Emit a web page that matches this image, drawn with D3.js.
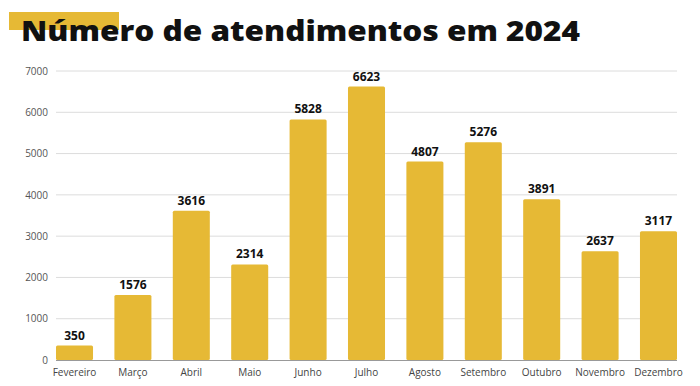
<!DOCTYPE html>
<html>
<head>
<meta charset="utf-8">
<script src="https://cdn.jsdelivr.net/npm/d3@7"></script>
<style>
  body { margin: 0; background: #fff; }
  svg { display: block; }
</style>
</head>
<body>
<div id="chart"></div>
<script>
const months = ['Fevereiro', 'Março', 'Abril', 'Maio', 'Junho', 'Julho', 'Agosto', 'Setembro', 'Outubro', 'Novembro', 'Dezembro'];
const atendimentos = [350, 1576, 3616, 2314, 5828, 6623, 4807, 5276, 3891, 2637, 3117];
const yTicks = [0, 1000, 2000, 3000, 4000, 5000, 6000, 7000];
const title = 'Número de atendimentos em 2024';

const w = 700;
const h = 386;
const barColor = '#E6B935';

const svg = d3.select('#chart')
              .append('svg')
              .attr('width', w)
              .attr('height', h);

// title with the yellow marker behind it
svg.append('rect')
   .attr('x', 9)
   .attr('y', 12)
   .attr('width', 110)
   .attr('height', 18)
   .attr('fill', barColor);

svg.append('text')
   .attr('x', 21)
   .attr('y', 41)
   .attr('font-family', '"Open Sans", sans-serif')
   .attr('font-weight', 800)
   .attr('font-size', 29)
   .attr('fill', '#111')
   .attr('textLength', 559)
   .attr('lengthAdjust', 'spacingAndGlyphs')
   .text(title);

const xScale = d3.scaleBand()
                 .domain(months)
                 .range([56, 677])
                 .paddingInner(0.366)
                 .paddingOuter(0);

const yScale = d3.scaleLinear()
                 .domain([0, 7000])
                 .range([360, 71]);

// grid lines
svg.append('g')
   .selectAll('line')
   .data(yTicks.filter(d => d > 0))
   .enter()
   .append('line')
   .attr('x1', 56)
   .attr('x2', 677)
   .attr('y1', d => yScale(d))
   .attr('y2', d => yScale(d))
   .attr('stroke', '#dcdcdc')
   .attr('stroke-width', 1);

// y axis labels
const yAxis = d3.axisLeft(yScale)
                .tickValues(yTicks)
                .tickFormat(d3.format('d'))
                .tickSize(0)
                .tickPadding(0);

svg.append('g')
   .attr('transform', 'translate(48, 0)')
   .call(yAxis)
   .call(g => g.select('.domain').remove())
   .call(g => g.selectAll('text')
               .attr('font-family', '"Open Sans", sans-serif')
               .attr('font-size', 10)
               .attr('fill', '#555'));

// bars
svg.selectAll('rect.bar')
   .data(atendimentos)
   .enter()
   .append('rect')
   .attr('class', 'bar')
   .attr('x', (d, i) => xScale(months[i]))
   .attr('y', d => yScale(d))
   .attr('width', xScale.bandwidth())
   .attr('height', d => yScale(0) - yScale(d))
   .attr('rx', 1.5)
   .attr('fill', barColor);

// baseline
svg.append('line')
   .attr('x1', 56)
   .attr('x2', 677)
   .attr('y1', yScale(0) + 0.5)
   .attr('y2', yScale(0) + 0.5)
   .attr('stroke', '#999')
   .attr('stroke-width', 1);

// value labels
svg.selectAll('text.value')
   .data(atendimentos)
   .enter()
   .append('text')
   .attr('class', 'value')
   .attr('x', (d, i) => xScale(months[i]) + xScale.bandwidth() / 2)
   .attr('y', d => yScale(d) - 6)
   .attr('text-anchor', 'middle')
   .attr('font-family', '"Open Sans", sans-serif')
   .attr('font-weight', 700)
   .attr('font-size', 12)
   .attr('fill', '#111')
   .text(d => d);

// x axis labels
const xAxis = d3.axisBottom(xScale)
                .tickSize(0)
                .tickPadding(0);

svg.append('g')
   .attr('transform', 'translate(0, 376)')
   .call(xAxis)
   .call(g => g.select('.domain').remove())
   .call(g => g.selectAll('text')
               .attr('dy', 0)
               .attr('font-family', '"Open Sans", sans-serif')
               .attr('font-size', 10)
               .attr('fill', '#444'));
</script>
</body>
</html>
